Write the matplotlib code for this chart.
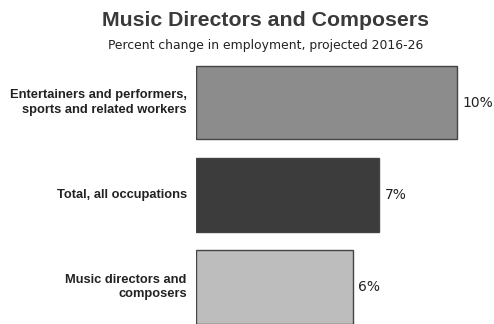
"""
Horizontal bar chart: projected employment change for music directors and composers.
"""

import matplotlib
matplotlib.use('Agg')
import matplotlib.pyplot as plt

# ============================================================================
# Data
# ============================================================================

categories = ['Entertainers and performers,\nsports and related workers',
              'Total, all occupations',
              'Music directors and\ncomposers']
values = [10, 7, 6]
value_labels = ['10%', '7%', '6%']
bar_colors = ['#8c8c8c', '#3c3c3c', '#bdbdbd']

# ============================================================================
# Plotting
# ============================================================================

fig = plt.figure(figsize=(4.94, 3.24), dpi=100)
ax = fig.add_axes([196 / 494, 0, 1 - 196 / 494, 262 / 324])

ypos = list(range(len(categories)))
ax.barh(ypos, values, height=0.8, color=bar_colors, edgecolor='#444444',
        linewidth=1.0)
ax.set_xlim(0, 298 / 26.1)
ax.set_ylim(2.4, -0.44)

for y, v, lab in zip(ypos, values, value_labels):
    ax.text(v + 0.22, y, lab, va='center', ha='left', fontsize=10,
            family='DejaVu Sans', color='#222222')

for y, cat in zip(ypos, categories):
    ax.text(-0.35, y, cat, va='center', ha='right', fontsize=9.3,
            fontweight='bold', family='Liberation Sans', color='#222222',
            linespacing=1.3)

for s in ax.spines.values():
    s.set_visible(False)
ax.set_xticks([])
ax.set_yticks([])

fig.text(265 / 494, 1 - 21 / 324, 'Music Directors and Composers',
         ha='center', va='center', fontsize=15.3, fontweight='bold',
         family='Liberation Sans', color='#3a3a3a')
fig.text(266 / 494, 1 - 46 / 324, 'Percent change in employment, projected 2016-26',
         ha='center', va='center', fontsize=8.9, family='DejaVu Sans',
         color='#222222')

fig.savefig('out.png', dpi=100)
